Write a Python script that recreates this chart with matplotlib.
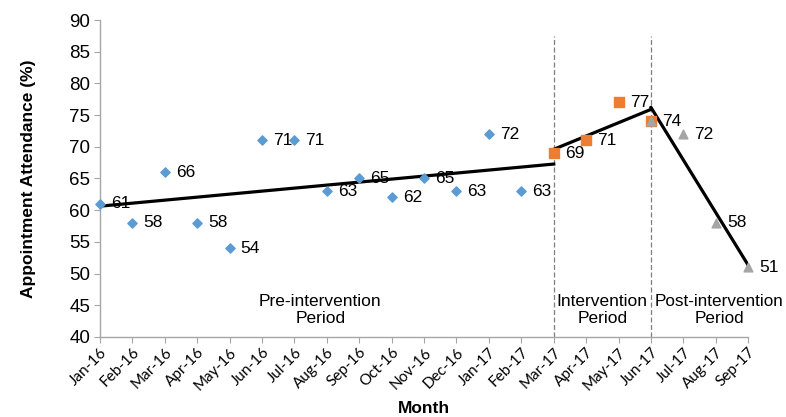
import numpy as np
import matplotlib
matplotlib.use("Agg")
import matplotlib.pyplot as plt

plt.rcParams['font.family'] = ['Liberation Sans', 'DejaVu Sans']

months = ["Jan-16", "Feb-16", "Mar-16", "Apr-16", "May-16", "Jun-16", "Jul-16",
          "Aug-16", "Sep-16", "Oct-16", "Nov-16", "Dec-16", "Jan-17", "Feb-17",
          "Mar-17", "Apr-17", "May-17", "Jun-17", "Jul-17", "Aug-17", "Sep-17"]

# attendance (%) per period, by month index
pre_idx = list(range(0, 14))
pre_vals = [61, 58, 66, 58, 54, 71, 71, 63, 65, 62, 65, 63, 72, 63]
int_idx = [14, 15, 16, 17]
int_vals = [69, 71, 77, 74]
post_idx = [17, 18, 19, 20]
post_vals = [74, 72, 58, 51]

fig = plt.figure(figsize=(7.86, 4.17), dpi=100)
ax = fig.add_axes([0.127, 0.192, 0.825, 0.76])

grey_axis = "#A6A6A6"

# dashed separators
for xv in (14, 17):
    ax.axvline(xv, ymin=0, ymax=0.95, color="#7F7F7F", ls=(0, (4, 2)), lw=0.9, zorder=1)

# linear trend lines per period
pre_fit = np.polyfit(pre_idx, pre_vals, 1)
xs = np.array([0, 14])
ax.plot(xs, np.polyval(pre_fit, xs), color="black", lw=2.3, zorder=2)
int_fit = np.polyfit(int_idx, int_vals, 1)
xs = np.array([14, 17])
ax.plot(xs, np.polyval(int_fit, xs), color="black", lw=2.3, zorder=2)
post_fit = np.polyfit(post_idx, post_vals, 1)
xs = np.array([17, 20])
ax.plot(xs, np.polyval(post_fit, xs), color="black", lw=2.3, zorder=2)

ax.scatter(pre_idx, pre_vals, marker="D", s=22, color="#5B9BD5", zorder=3, clip_on=False)
ax.scatter(int_idx, int_vals, marker="s", s=55, color="#ED7D31", zorder=3, clip_on=False)
ax.scatter(post_idx, post_vals, marker="^", s=40, color="#A5A5A5", zorder=4, clip_on=False)

def label_points(xi, yi):
    for x, y in zip(xi, yi):
        ax.annotate(str(y), (x, y), xytext=(8, 0), textcoords="offset points",
                    va="center", ha="left", fontsize=12.5, zorder=5)

label_points(pre_idx, pre_vals)
label_points(int_idx, int_vals)
label_points(post_idx[1:], post_vals[1:])

ax.text(6.8, 44.3, "Pre-intervention\nPeriod", ha="center", va="center", fontsize=12.5, linespacing=1.15)
ax.text(15.5, 44.3, "Intervention\nPeriod", ha="center", va="center", fontsize=12.5, linespacing=1.15)
ax.text(19.1, 44.3, "Post-intervention\nPeriod", ha="center", va="center", fontsize=12.3, linespacing=1.15)

ax.set_xlim(0, 20)
ax.set_ylim(40, 90)
ax.set_yticks(range(40, 91, 5))
ax.set_xticks(range(len(months)))
ax.set_xticklabels(months, rotation=45, ha="right", rotation_mode="anchor",
                   fontsize=11, family=["Lato", "DejaVu Sans"])
ax.tick_params(axis="y", labelsize=13.5, length=4, color=grey_axis, pad=3)
ax.tick_params(axis="x", length=4, color=grey_axis, pad=2)

for s in ("top", "right"):
    ax.spines[s].set_visible(False)
for s in ("left", "bottom"):
    ax.spines[s].set_color(grey_axis)
    ax.spines[s].set_linewidth(1.0)

ax.set_xlabel("Month", fontsize=12.5, fontweight="bold", labelpad=6)
ax.set_ylabel("Appointment Attendance (%)", fontsize=12.5, fontweight="bold", labelpad=24)

fig.savefig("out.png", dpi=100)
